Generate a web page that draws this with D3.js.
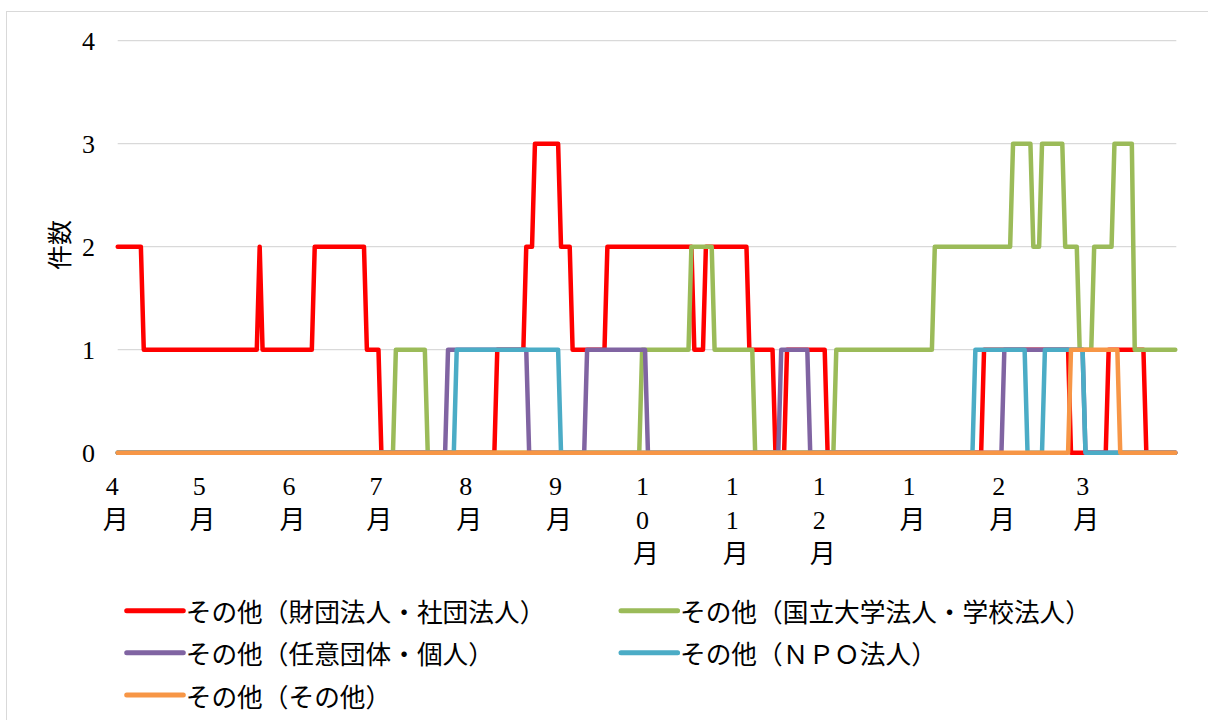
<!DOCTYPE html>
<html lang="ja">
<head>
<meta charset="utf-8">
<script src="https://cdn.jsdelivr.net/npm/d3@7"></script>
<style>
  html, body { margin: 0; padding: 0; background: #ffffff; }
  svg { display: block; }
  .num { font-family: "Liberation Serif", "DejaVu Serif", serif; }
  .jp { font-family: "Noto Sans CJK JP", sans-serif; }
</style>
</head>
<body>
<svg id="chart" width="1208" height="720"></svg>
<script>
// Fiscal year, day index 0 = 4/1 (366 days, leap year)
const monthLabels = ["4月", "5月", "6月", "7月", "8月", "9月", "10月", "11月", "12月", "1月", "2月", "3月"];
const monthStartDays = [0, 30, 61, 91, 122, 153, 183, 214, 244, 275, 306, 335];
const lastDay = 365;
const yTicks = [0, 1, 2, 3, 4];

// Daily counts, listed as [day, count] at each point where the count changes
const zaidanShadan = [
  [0, 2], [8, 2], [9, 1], [48, 1], [49, 2], [50, 1], [67, 1], [68, 2], [85, 2], [86, 1],
  [90, 1], [91, 0], [130, 0], [131, 1], [140, 1], [141, 2], [143, 2], [144, 3], [152, 3],
  [153, 2], [156, 2], [157, 1], [168, 1], [169, 2], [198, 2], [199, 1], [202, 1], [203, 2],
  [217, 2], [218, 1], [226, 1], [227, 0], [230, 0], [231, 1], [244, 1], [245, 0], [298, 0],
  [299, 1], [328, 1], [329, 0], [341, 0], [342, 1], [354, 1], [355, 0], [365, 0]
];
const daigakuGakko = [
  [0, 0], [95, 0], [96, 1], [106, 1], [107, 0], [180, 0], [181, 1], [197, 1], [198, 2],
  [205, 2], [206, 1], [219, 1], [220, 0], [247, 0], [248, 1], [281, 1], [282, 2], [308, 2],
  [309, 3], [315, 3], [316, 2], [318, 2], [319, 3], [326, 3], [327, 2], [331, 2], [332, 1],
  [336, 1], [337, 2], [343, 2], [344, 3], [350, 3], [351, 1], [365, 1]
];
const niniKojin = [
  [0, 0], [113, 0], [114, 1], [141, 1], [142, 0], [161, 0], [162, 1], [182, 1], [183, 0],
  [228, 0], [229, 1], [238, 1], [239, 0], [305, 0], [306, 1], [333, 1], [334, 0], [365, 0]
];
const npo = [
  [0, 0], [116, 0], [117, 1], [152, 1], [153, 0], [295, 0], [296, 1], [313, 1], [314, 0],
  [319, 0], [320, 1], [333, 1], [334, 0], [365, 0]
];
const sonota = [
  [0, 0], [328, 0], [329, 1], [345, 1], [346, 0], [365, 0]
];

const seriesNames = [
  "その他（財団法人・社団法人）",
  "その他（国立大学法人・学校法人）",
  "その他（任意団体・個人）",
  "その他（ＮＰＯ法人）",
  "その他（その他）"
];
const seriesColors = ["#FF0000", "#9BBB59", "#8064A2", "#4BACC6", "#F79646"];
const seriesData = [zaidanShadan, daigakuGakko, niniKojin, npo, sonota];

const svg = d3.select("#chart");

// outer chart frame
svg.append("rect")
  .attr("x", 6.5).attr("y", 11.5)
  .attr("width", 1400).attr("height", 900)
  .attr("fill", "#ffffff")
  .attr("stroke", "#D9D9D9").attr("stroke-width", 1);

const x = d3.scaleLinear().domain([0, lastDay]).range([117.7, 1175.3]);
const y = d3.scaleLinear().domain([0, 4]).range([452.7, 40.7]);

// horizontal gridlines
svg.append("g")
  .selectAll("line")
  .data(yTicks)
  .join("line")
  .attr("x1", x(0)).attr("x2", x(lastDay) + 1)
  .attr("y1", d => y(d)).attr("y2", d => y(d))
  .attr("stroke", "#D9D9D9").attr("stroke-width", 1.3);

// y axis tick labels
svg.append("g")
  .selectAll("text")
  .data(yTicks)
  .join("text")
  .attr("class", "num")
  .attr("x", 95)
  .attr("y", d => y(d))
  .attr("dy", "0.34em")
  .attr("text-anchor", "end")
  .attr("font-size", 26)
  .attr("fill", "#000")
  .text(d => d);

// y axis title
svg.append("text")
  .attr("class", "jp")
  .attr("transform", "translate(58,245) rotate(-90)")
  .attr("text-anchor", "middle")
  .attr("dominant-baseline", "central")
  .attr("font-size", 25)
  .attr("fill", "#000")
  .text("件数");

// x axis labels: one character per line (narrow daily categories)
const xLab = svg.append("g")
  .selectAll("text")
  .data(monthLabels.map((m, i) => ({ label: m, day: monthStartDays[i] })))
  .join("text")
  .attr("font-size", 26)
  .attr("fill", "#000");
xLab.each(function (d) {
  const t = d3.select(this);
  Array.from(d.label).forEach((ch, i) => {
    const isDigit = /[0-9]/.test(ch);
    t.append("tspan")
      .attr("class", isDigit ? "num" : "jp")
      .attr("text-anchor", "middle")
      .attr("x", x(d.day) + (isDigit ? -5.5 : -2))
      .attr("y", 495.3 + i * 34)
      .text(ch);
  });
});

// series lines
const line = d3.line()
  .x(d => x(d[0]))
  .y(d => y(d[1]));

svg.append("g")
  .selectAll("path")
  .data(seriesData)
  .join("path")
  .attr("d", line)
  .attr("fill", "none")
  .attr("stroke", (d, i) => seriesColors[i])
  .attr("stroke-width", 4.5)
  .attr("stroke-linejoin", "round")
  .attr("stroke-linecap", "round");

// legend: two columns, three rows
const legendItems = seriesNames.map((name, i) => ({
  name, color: seriesColors[i], col: i % 2, row: Math.floor(i / 2)
}));
const colX = [126.7, 621];
const rowY = [610.7, 652.7, 695];
const lg = svg.append("g")
  .selectAll("g")
  .data(legendItems)
  .join("g")
  .attr("transform", d => `translate(${colX[d.col]},${rowY[d.row]})`);
lg.append("line")
  .attr("x1", 0).attr("x2", 56.6)
  .attr("y1", 0).attr("y2", 0)
  .attr("stroke", d => d.color)
  .attr("stroke-width", 5)
  .attr("stroke-linecap", "round");
lg.append("text")
  .attr("class", "jp")
  .attr("x", 59)
  .attr("y", 0)
  .attr("dominant-baseline", "central")
  .attr("font-size", 25.7)
  .attr("fill", "#000")
  .text(d => d.name);
</script>
</body>
</html>
